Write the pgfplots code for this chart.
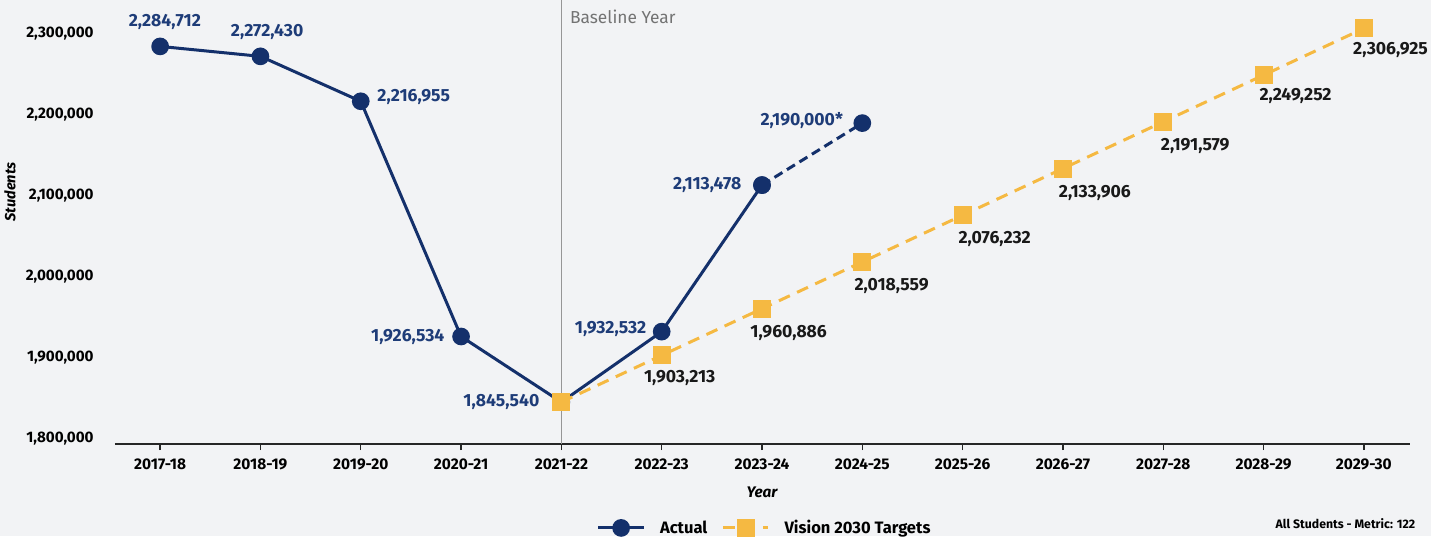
\documentclass[border=0pt]{standalone}
\usepackage{pgfplots}
\pgfplotsset{compat=1.18}
\usepackage{fontspec}
\setmainfont{Fira Sans}
\usetikzlibrary{backgrounds}
\definecolor{navy}{RGB}{20,48,107}
\definecolor{navylab}{RGB}{30,60,120}
\definecolor{gold}{RGB}{245,185,66}
\definecolor{bg}{RGB}{242,243,245}
\definecolor{basegray}{RGB}{150,150,150}
\begin{document}
\begin{tikzpicture}
\begin{axis}[
  scale only axis,
  width=971.25pt, height=333pt,
  xmin=-0.45, xmax=12.46,
  ymin=1793800, ymax=2342000,
  clip=false,
  axis x line*=bottom, axis y line*=left,
  x axis line style={line width=1.2pt, draw=black!85, -},
  y axis line style={draw=none},
  xtick={0,...,12},
  xticklabels={2017-18,2018-19,2019-20,2020-21,2021-22,2022-23,2023-24,2024-25,2025-26,2026-27,2027-28,2028-29,2029-30},
  xtick style={draw=black!85, line width=1pt},
  major tick length=4.5pt,
  tick align=outside,
  ytick={1800000,1900000,2000000,2100000,2200000,2300000},
  yticklabels={{1,800,000},{1,900,000},{2,000,000},{2,100,000},{2,200,000},{2,300,000}},
  ytick style={draw=none},
  yticklabel style={font=\bfseries\fontsize{11.4}{13}\selectfont, xshift=-8pt},
  xticklabel style={font=\bfseries\fontsize{11.6}{13}\selectfont, yshift=-3pt},
  legend columns=2,
  legend style={at={(0.504,-0.189)}, anchor=center, draw=none, fill=none,
    font=\bfseries\fontsize{12.4}{14}\selectfont,
    nodes={inner xsep=6pt},
    /tikz/every even column/.append style={column sep=4.5pt}},
  legend image code/.code={\draw[mark repeat=2,mark phase=2,#1] plot coordinates {(0cm,0cm)(0.6cm,0cm)(1.2cm,0cm)}; \path (1.2cm+5pt,0pt);},
]
% baseline line
\draw[basegray, line width=0.8pt] (axis cs:4,1793800) -- (axis cs:4,2342000);
\node[anchor=north west, text=black!55, font=\fontsize{13}{15}\selectfont] at (axis cs:4,2342000) [xshift=3pt, yshift=-4pt] {Baseline Year};

% Actual solid
\addplot[navy, line width=2.25pt, mark=*, mark size=5.5pt, mark options={solid, fill=navy, draw=navy}]
  coordinates {(0,2284712) (1,2272430) (2,2216955) (3,1926534) (4,1845540) (5,1932532) (6,2113478)};
\addlegendentry{Actual}
% Actual dashed
\addplot[navy, line width=2.25pt, dash pattern=on 7pt off 4pt, mark=*, mark size=5.5pt, mark options={solid, fill=navy, draw=navy}, forget plot]
  coordinates {(6,2113478) (7,2190000)};
% Targets
\addplot[gold, line width=2.25pt, dash pattern=on 9pt off 6pt, mark=square*, mark size=5.6pt, mark options={solid, fill=gold, draw=gold}]
  coordinates {(4,1845540) (5,1903213) (6,1960886) (7,2018559) (8,2076232) (9,2133906) (10,2191579) (11,2249252) (12,2306925)};
\addlegendentry{Vision 2030 Targets}

% Actual labels
\begin{scope}[every node/.style={text=navylab, font=\bfseries\fontsize{13.2}{15}\selectfont}]
\node[anchor=center] at (axis cs:0,2284712) [xshift=3.5pt, yshift=18pt] {2,284,712};
\node[anchor=center] at (axis cs:1,2272430) [xshift=5pt, yshift=18pt] {2,272,430};
\node[anchor=west] at (axis cs:2,2216955) [xshift=9pt, yshift=3pt] {2,216,955};
\node[anchor=east] at (axis cs:3,1926534) [xshift=-9pt] {1,926,534};
\node[anchor=east] at (axis cs:4,1845540) [xshift=-13pt] {1,845,540};
\node[anchor=east] at (axis cs:5,1932532) [xshift=-8pt, yshift=2pt] {1,932,532};
\node[anchor=east] at (axis cs:6,2113478) [xshift=-12pt] {2,113,478};
\node[anchor=east] at (axis cs:7,2190000) [xshift=-11pt, yshift=2pt] {2,190,000*};
\end{scope}
% Target labels
\begin{scope}[every node/.style={text=black!90, font=\bfseries\fontsize{13.2}{15}\selectfont, anchor=center}]
\node at (axis cs:5,1903213) [xshift=13.5pt, yshift=-17pt] {1,903,213};
\node at (axis cs:6,1960886) [xshift=20pt, yshift=-18pt] {1,960,886};
\node at (axis cs:7,2018559) [xshift=22pt, yshift=-18pt] {2,018,559};
\node at (axis cs:8,2076232) [xshift=24pt, yshift=-18pt] {2,076,232};
\node at (axis cs:9,2133906) [xshift=24pt, yshift=-18pt] {2,133,906};
\node at (axis cs:10,2191579) [xshift=24pt, yshift=-18pt] {2,191,579};
\node at (axis cs:11,2249252) [xshift=24pt, yshift=-16pt] {2,249,252};
\node at (axis cs:12,2306925) [xshift=20pt, yshift=-16pt] {2,306,925};
\end{scope}

% axis titles
\node[font=\bfseries\itshape\fontsize{11.5}{13}\selectfont] at (axis cs:6,1793800) [yshift=-36pt] {Year};
\node[rotate=90, font=\bfseries\itshape\fontsize{11}{13}\selectfont] at ([xshift=-78.75pt]axis cs:-0.45,2105000) {Students};
\node[anchor=east, font=\bfseries\fontsize{9.2}{10}\selectfont] at (rel axis cs:1,0) [xshift=7.5pt, yshift=-60pt] {All Students - Metric: 122};

\coordinate (bl) at (rel axis cs:0,0);
\coordinate (tr) at (rel axis cs:1,1);
\end{axis}
\pgfresetboundingbox
\path[use as bounding box] ([xshift=-86.25pt,yshift=-69pt]bl) rectangle ([xshift=15.75pt]tr);
\begin{scope}[on background layer]
\fill[bg] ([xshift=-86.25pt,yshift=-69pt]bl) rectangle ([xshift=15.75pt]tr);
\end{scope}
\end{tikzpicture}
\end{document}
